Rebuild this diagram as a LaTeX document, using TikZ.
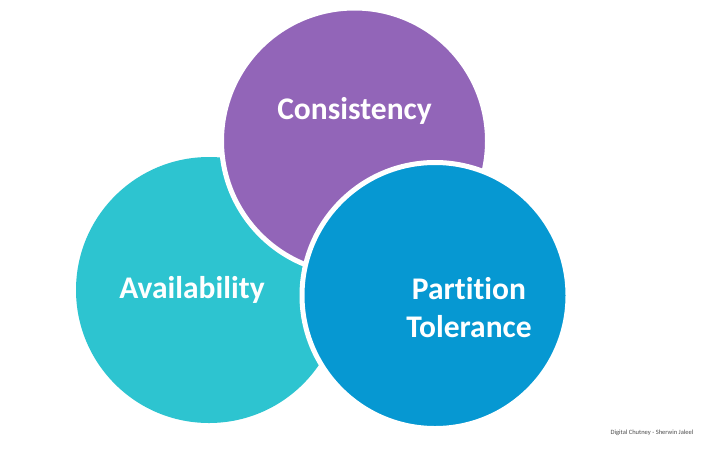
\documentclass[tikz,border=0pt]{standalone}
\usepackage{fontspec}
\setmainfont[Ligatures=NoCommon]{Carlito}
\definecolor{cpurple}{RGB}{146,101,184}
\definecolor{cteal}{RGB}{45,196,208}
\definecolor{cblue}{RGB}{6,152,210}
\begin{document}
\begin{tikzpicture}[x=1pt,y=-1pt,
  disc/.style={circle, minimum size=266pt, inner sep=0pt, draw=white, line width=5pt},
  lbl/.style={text=white, font=\fontsize{31.5}{38}\selectfont\bfseries, align=center}]
\useasboundingbox (0,0) rectangle (720,459);
\fill[white] (0,0) rectangle (720,459);
\node[disc, fill=cteal, draw=none] (A) at (209,290) {};
\node[disc, fill=cpurple] (C) at (354.5,141) {};
\node[disc, fill=cblue] (P) at (435,295.5) {};
\node[lbl] (tc) at (354.5,111) {Consistency};
\node[lbl] (ta) at (192,290) {Availability};
\node[lbl] (tp) at (469,308) {Partition\\Tolerance};
\node[font=\fontsize{6.5}{8}\selectfont, text=black!70] (cr) at (652,433) {Digital Chutney - Sherwin Jaleel};
\end{tikzpicture}
\end{document}
